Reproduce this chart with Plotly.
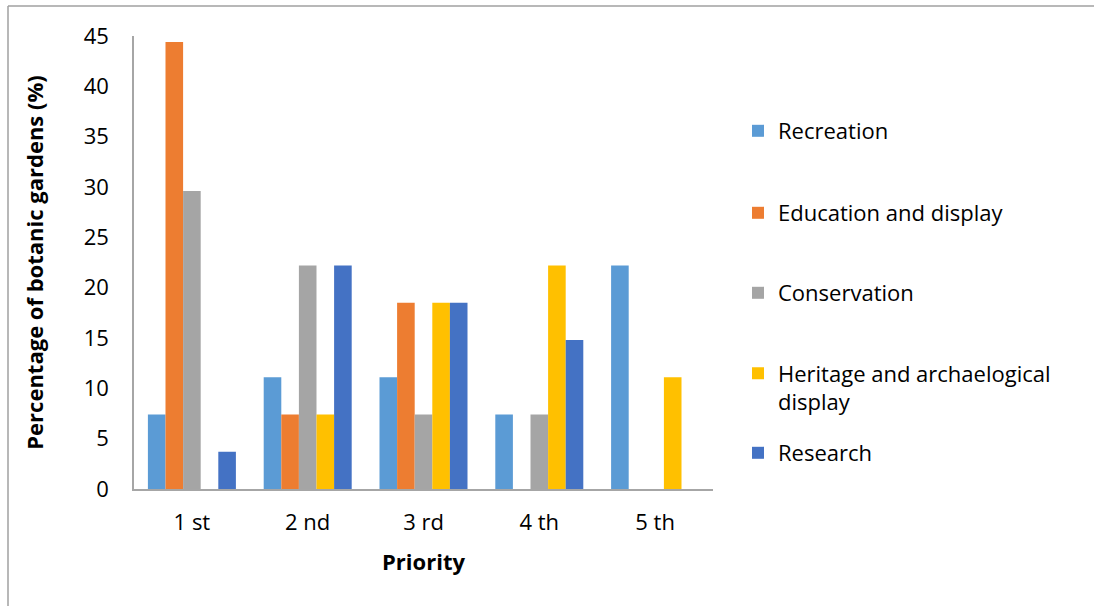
import plotly.graph_objects as go

priorities = ["1 st", "2 nd", "3 rd", "4 th", "5 th"]

recreation = [7.4, 11.1, 11.1, 7.4, 22.2]
education = [44.4, 7.4, 18.5, 0, 0]
conservation = [29.6, 22.2, 7.4, 7.4, 0]
heritage = [0, 7.4, 18.5, 22.2, 11.1]
research = [3.7, 22.2, 18.5, 14.8, 0]

series_names = ["Recreation", "Education and display", "Conservation",
                "Heritage and archaelogical<br>display", "Research"]
series_values = [recreation, education, conservation, heritage, research]
series_colors = ["#5B9BD5", "#ED7D31", "#A5A5A5", "#FFC000", "#4472C4"]

FONT = "'Open Sans', 'Noto Sans', sans-serif"
SIZE = 22

# plot area in pixels
L, R, T, B = 134, 713, 36, 489
W, H = R - L, B - T


def py(px):
    return (B - px) / H


def px_x(px):
    return (px - L) / W


# vertical centre of each legend entry (pixels)
legend_centres = [131, 213, 293, 388, 453]

fig = go.Figure()
layout_legends = {}
for i, (name, vals, color) in enumerate(zip(series_names, series_values, series_colors)):
    key = "legend" if i == 0 else f"legend{i + 1}"
    fig.add_trace(go.Bar(
        x=priorities, y=vals, name=name,
        marker=dict(color=color, line=dict(width=0)),
        legend=key,
    ))
    layout_legends[key] = dict(
        x=px_x(738), xanchor="left",
        y=py(legend_centres[i]), yanchor="middle",
        valign="top",
        font=dict(family=FONT, size=SIZE, color="#000000"),
        bgcolor="rgba(0,0,0,0)",
    )

# outer chart frame (left and top edges)
frame = dict(type="line", xref="paper", yref="paper",
             line=dict(color="#A0A0A0", width=1.5), layer="above")

fig.update_layout(
    width=1094, height=606,
    margin=dict(l=L, r=1094 - R, t=T, b=606 - B, autoexpand=False),
    paper_bgcolor="white", plot_bgcolor="white",
    barmode="group", bargap=0.24, bargroupgap=0,
    font=dict(family=FONT, size=SIZE, color="#000000"),
    showlegend=True,
    xaxis=dict(
        showline=True, linecolor="#A6A6A6", linewidth=1.5,
        showgrid=False, ticks="", ticklabelstandoff=13,
        tickfont=dict(size=SIZE),
        title=dict(text="<b>Priority</b>", font=dict(size=SIZE), standoff=19),
    ),
    yaxis=dict(
        range=[0, 45], dtick=5, tick0=0,
        showline=True, linecolor="#A6A6A6", linewidth=1.5,
        showgrid=False, zeroline=False, ticks="", ticklabelstandoff=19,
        tickfont=dict(size=SIZE),
        title=dict(text="<b>Percentage of botanic gardens (%)</b>",
                   font=dict(size=SIZE), standoff=34),
    ),
    **layout_legends,
)

fig.add_shape(frame, x0=px_x(8), x1=px_x(8), y0=py(606), y1=py(6))
fig.add_shape(frame, x0=px_x(8), x1=px_x(1094), y0=py(6), y1=py(6))

fig.write_html("out.html")
